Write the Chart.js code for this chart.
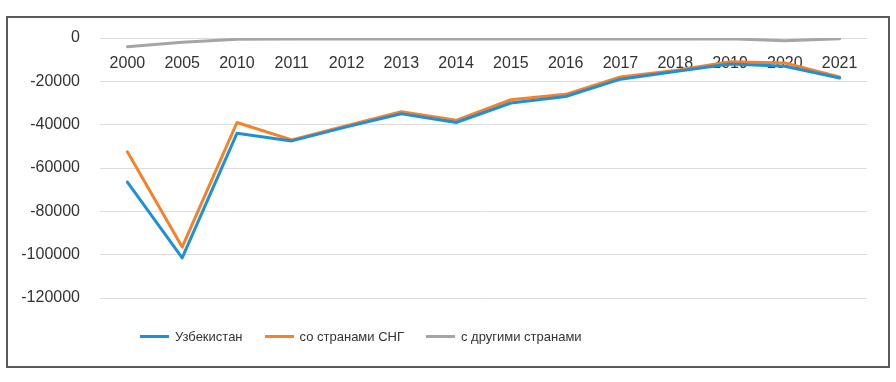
<!DOCTYPE html>
<html>
<head>
<meta charset="utf-8">
<script src="https://cdn.jsdelivr.net/npm/chart.js@4"></script>
<style>
  html, body { margin: 0; padding: 0; background: #fff; }
  #wrap { position: relative; width: 896px; height: 382px; }
  #frame {
    position: absolute; left: 6px; top: 16px; width: 880px; height: 348px;
    border: 2px solid #5a5a5a; box-sizing: content-box;
  }
  canvas { position: absolute; left: 0; top: 0; }
  #legend {
    position: absolute; left: 140px; top: 329px; display: flex; align-items: center;
    font: 13px "Liberation Sans", Arial, sans-serif; color: #333;
  }
  .item { display: flex; align-items: center; margin-right: 22px; }
  .swatch { width: 29px; height: 3px; margin-right: 6px; }
</style>
</head>
<body>
<div id="wrap">
  <div id="frame"></div>
  <canvas id="chart" width="896" height="382"></canvas>
  <div id="legend"></div>
</div>
<script>
'use strict';

const years = ['2000', '2005', '2010', '2011', '2012', '2013', '2014', '2015', '2016', '2017', '2018', '2019', '2020', '2021'];
const uzbekistan = [-66500, -101500, -44000, -47500, -41000, -35000, -39000, -30000, -27000, -19000, -15500, -12000, -13000, -18500];
const cisCountries = [-52500, -96500, -39000, -47000, -40500, -34000, -38000, -28500, -26000, -18000, -15000, -11000, -11500, -18000];
const otherCountries = [-4000, -2000, -600, -500, -500, -500, -500, -500, -500, -500, -500, -300, -1300, -300];

const fontFamily = '"Liberation Sans", Arial, sans-serif';

const chart = new Chart(document.getElementById('chart'), {
  type: 'line',
  data: {
    labels: years,
    datasets: [
      { label: 'Узбекистан', data: uzbekistan, borderColor: '#1e90d8', backgroundColor: '#1e90d8' },
      { label: 'со странами СНГ', data: cisCountries, borderColor: '#f5822a', backgroundColor: '#f5822a' },
      { label: 'с другими странами', data: otherCountries, borderColor: '#a5a5a5', backgroundColor: '#a5a5a5' }
    ]
  },
  options: {
    responsive: false,
    animation: false,
    layout: { padding: { top: 38, right: 29, bottom: 84, left: 0 } },
    elements: {
      line: { borderWidth: 3, tension: 0, borderCapStyle: 'round', borderJoinStyle: 'round' },
      point: { radius: 0 }
    },
    plugins: {
      legend: { display: false },
      tooltip: { enabled: false }
    },
    scales: {
      x: {
        position: { y: 0 },
        offset: true,
        grid: { display: false, drawTicks: false, offset: true },
        border: { display: false },
        ticks: { color: '#333', font: { family: fontFamily, size: 16 }, padding: 16, maxRotation: 0, autoSkip: false }
      },
      y: {
        min: -120000,
        max: 0,
        afterFit(scale) { scale.width = 100; },
        grid: { color: '#dcdcdc', lineWidth: 1, drawTicks: false },
        border: { display: false },
        ticks: {
          stepSize: 20000,
          color: '#333',
          font: { family: fontFamily, size: 16 },
          padding: 20,
          callback(value) { return String(value); }
        }
      }
    }
  }
});

// legend built from the datasets, placed like the original
const legendEl = document.getElementById('legend');
chart.data.datasets.forEach((ds) => {
  const item = document.createElement('div');
  item.className = 'item';
  const sw = document.createElement('span');
  sw.className = 'swatch';
  sw.style.background = ds.borderColor;
  const txt = document.createElement('span');
  txt.textContent = ds.label;
  item.appendChild(sw);
  item.appendChild(txt);
  legendEl.appendChild(item);
});
</script>
</body>
</html>
